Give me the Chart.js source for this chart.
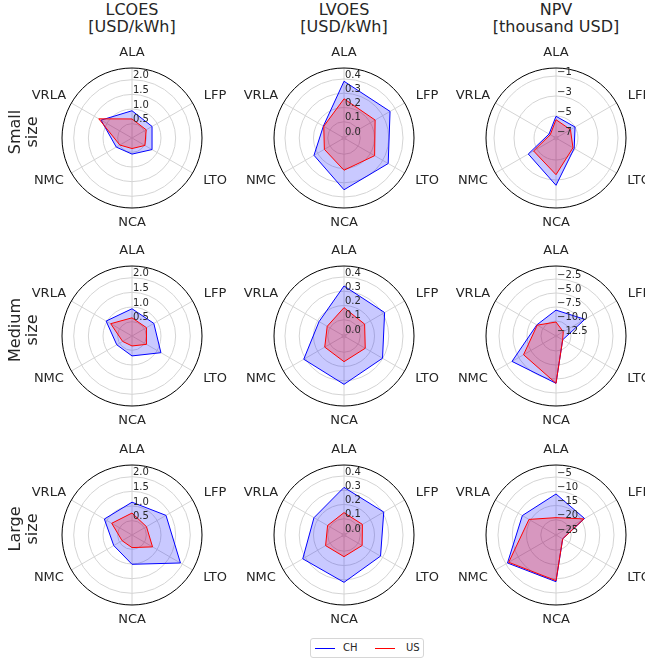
<!DOCTYPE html>
<html>
<head>
<meta charset="utf-8">
<script src="https://cdn.jsdelivr.net/npm/chart.js@4.4.0/dist/chart.umd.min.js"></script>
<style>
html, body { margin:0; padding:0; width:645px; height:659px; overflow:hidden; background:#fff;
  font-family:"DejaVu Sans", sans-serif; color:#262626; }
canvas { position:absolute; }
.title { position:absolute; top:1px; width:200px; text-align:center; font-size:16px; line-height:17px; }
.row { position:absolute; width:100px; height:36px; font-size:16px; line-height:17px; text-align:center;
  transform:rotate(-90deg); }
#legend { position:absolute; left:310px; top:638px; width:112px; height:18px; border:1px solid #d6d6d6;
  border-radius:3px; font-size:10px; }
#legend span { position:absolute; top:3px; }
#legend i { position:absolute; top:9px; width:20px; height:0; border-top:1px solid; }
</style>
</head>
<body>
<div id="legend">
  <i style="left:4px;border-color:#0000ff"></i><span style="left:32px">CH</span>
  <i style="left:64px;border-color:#ff0000"></i><span style="left:95px">US</span>
</div>
<script>
// categories, row / column names
const categories = ["ALA", "LFP", "LTO", "NCA", "NMC", "VRLA"];
const sizes = ["Small", "Medium", "Large"];
const metrics = ["LCOES", "LVOES", "NPV"];
const units = ["[USD/kWh]", "[USD/kWh]", "[thousand USD]"];

// LCOES [USD/kWh]
const lcoesSmallCH  = [0.94, 0.80, 0.80, 0.56, 0.63, 1.23];
const lcoesSmallUS  = [0.66, 0.57, 0.52, 0.37, 0.49, 1.32];
const lcoesMediumCH = [0.94, 0.87, 1.15, 0.69, 0.61, 1.03];
const lcoesMediumUS = [0.63, 0.58, 0.58, 0.35, 0.38, 0.85];
const lcoesLargeCH  = [1.13, 1.35, 1.92, 1.01, 0.73, 1.10];
const lcoesLargeUS  = [0.76, 0.58, 0.82, 0.44, 0.40, 0.81];

// LVOES [USD/kWh]
const lvoesSmallCH  = [0.384, 0.359, 0.344, 0.349, 0.229, 0.153];
const lvoesSmallUS  = [0.261, 0.238, 0.234, 0.212, 0.145, 0.150];
const lvoesMediumCH = [0.337, 0.315, 0.298, 0.325, 0.312, 0.188];
const lvoesMediumUS = [0.185, 0.153, 0.158, 0.166, 0.142, 0.122];
const lvoesLargeCH  = [0.320, 0.308, 0.282, 0.318, 0.320, 0.229];
const lvoesLargeUS  = [0.143, 0.135, 0.133, 0.138, 0.135, 0.119];

// NPV [thousand USD]
const npvSmallCH  = [-5.03, -5.00, -5.10, -2.47, -4.00, -6.40];
const npvSmallUS  = [-5.37, -5.53, -5.24, -3.53, -4.61, -6.54];
const npvMediumCH = [-8.06, -6.73, -11.31, -4.23, -3.61, -8.72];
const npvMediumUS = [-10.18, -11.18, -11.31, -4.23, -5.99, -8.81];
const npvLargeCH  = [-10.96, -13.78, -22.65, -8.97, -5.70, -11.72];
const npvLargeUS  = [-19.26, -14.05, -22.65, -9.34, -6.19, -14.40];

// radial ticks and their labels
const lcoesTicks = [0.5, 1.0, 1.5, 2.0];
const lcoesTickLabels = ["0.5", "1.0", "1.5", "2.0"];
const lvoesTicks = [0.0, 0.1, 0.2, 0.3, 0.4];
const lvoesTickLabels = ["0.0", "0.1", "0.2", "0.3", "0.4"];
const npvSmallTicks = [-7, -5, -3, -1];
const npvSmallTickLabels = ["\u22127", "\u22125", "\u22123", "\u22121"];
const npvMediumTicks = [-12.5, -10, -7.5, -5, -2.5];
const npvMediumTickLabels = ["\u221212.5", "\u221210.0", "\u22127.5", "\u22125.0", "\u22122.5"];
const npvLargeTicks = [-25, -20, -15, -10, -5];
const npvLargeTickLabels = ["\u221225", "\u221220", "\u221215", "\u221210", "\u22125"];

// axis limits
const lcoesRange = [0.01, 2.40];
const lvoesRange = [-0.014, 0.477];
const npvSmallRange = [-7.2, -0.2];
const npvMediumRange = [-12.68, -0.18];
const npvLargeRange = [-25.35, -0.79];

const panels = [
  [lcoesSmallCH, lcoesSmallUS, lcoesTicks, lcoesTickLabels, lcoesRange],
  [lvoesSmallCH, lvoesSmallUS, lvoesTicks, lvoesTickLabels, lvoesRange],
  [npvSmallCH, npvSmallUS, npvSmallTicks, npvSmallTickLabels, npvSmallRange],
  [lcoesMediumCH, lcoesMediumUS, lcoesTicks, lcoesTickLabels, lcoesRange],
  [lvoesMediumCH, lvoesMediumUS, lvoesTicks, lvoesTickLabels, lvoesRange],
  [npvMediumCH, npvMediumUS, npvMediumTicks, npvMediumTickLabels, npvMediumRange],
  [lcoesLargeCH, lcoesLargeUS, lcoesTicks, lcoesTickLabels, lcoesRange],
  [lvoesLargeCH, lvoesLargeUS, lvoesTicks, lvoesTickLabels, lvoesRange],
  [npvLargeCH, npvLargeUS, npvLargeTicks, npvLargeTickLabels, npvLargeRange]
];

const colX = [132, 344, 556];
const rowY = [138, 336, 535];
const R = 70;
const W = 212, H = 198;

// outer circle, radial tick labels and category labels
const radarText = {
  id: "radarText",
  afterDraw(chart, args, o) {
    const s = chart.scales.r, ctx = chart.ctx;
    ctx.save();
    ctx.beginPath();
    ctx.arc(s.xCenter, s.yCenter, s.drawingArea, 0, 2 * Math.PI);
    ctx.strokeStyle = "#000";
    ctx.lineWidth = 1;
    ctx.stroke();

    ctx.fillStyle = "#262626";
    ctx.font = '10px "DejaVu Sans"';
    ctx.textAlign = "left";
    ctx.textBaseline = "middle";
    o.ticks.forEach((v, i) => {
      ctx.fillText(o.labels[i], s.xCenter + 1, s.yCenter - s.getDistanceFromCenterForValue(v) - 4);
    });

    ctx.font = '13px "DejaVu Sans"';
    ctx.textAlign = "center";
    categories.forEach((c, i) => {
      const p = s.getPointPosition(i, s.drawingArea + 15);
      const dx = p.x - s.xCenter;
      const shift = Math.abs(dx) > 1 ? Math.sign(dx) * 9.5 : 0;
      ctx.fillText(c, p.x + shift, p.y);
    });
    ctx.restore();
  }
};

panels.forEach((p, k) => {
  const [ch, us, ticks, tickLabels, range] = p;
  const col = k % 3, row = Math.floor(k / 3);
  const cv = document.createElement("canvas");
  cv.width = W; cv.height = H;
  cv.style.left = (colX[col] - W / 2) + "px";
  cv.style.top = (rowY[row] - H / 2) + "px";
  cv.style.width = W + "px"; cv.style.height = H + "px";
  document.body.appendChild(cv);

  new Chart(cv.getContext("2d"), {
    type: "radar",
    data: {
      labels: categories,
      datasets: [
        { label: "CH", data: ch, order: 1, borderColor: "#0000ff", backgroundColor: "rgba(0,0,255,0.21)",
          borderWidth: 1, pointRadius: 0, fill: "start", tension: 0 },
        { label: "US", data: us, order: 0, borderColor: "#ff0000", backgroundColor: "rgba(255,0,0,0.25)",
          borderWidth: 1, pointRadius: 0, fill: "start", tension: 0 }
      ]
    },
    options: {
      responsive: false,
      animation: false,
      devicePixelRatio: 1,
      layout: { padding: { left: W / 2 - R, right: W / 2 - R, top: H / 2 - R, bottom: H / 2 - R } },
      plugins: {
        legend: { display: false },
        tooltip: { enabled: false },
        radarText: { ticks: ticks, labels: tickLabels }
      },
      scales: {
        r: {
          min: range[0],
          max: range[1],
          beginAtZero: false,
          afterBuildTicks: sc => { sc.ticks = [range[0]].concat(ticks).map(v => ({ value: v })); },
          ticks: { display: false },
          pointLabels: { display: false },
          grid: { circular: true, lineWidth: 1,
                  color: c => c.index === 0 ? "rgba(0,0,0,0)" : "#d4d4d4" },
          angleLines: { color: "#d4d4d4", lineWidth: 1 }
        }
      }
    },
    plugins: [radarText]
  });
});

// column titles
metrics.forEach((m, i) => {
  const d = document.createElement("div");
  d.className = "title";
  d.style.left = (colX[i] - 100) + "px";
  d.innerHTML = m + "<br>" + units[i];
  document.body.appendChild(d);
});

// row labels
sizes.forEach((s, i) => {
  const d = document.createElement("div");
  d.className = "row";
  d.style.left = (24 - 50) + "px";
  d.style.top = (rowY[i] - 6 - 18) + "px";
  d.innerHTML = s + "<br>size";
  document.body.appendChild(d);
});
</script>
</body>
</html>
